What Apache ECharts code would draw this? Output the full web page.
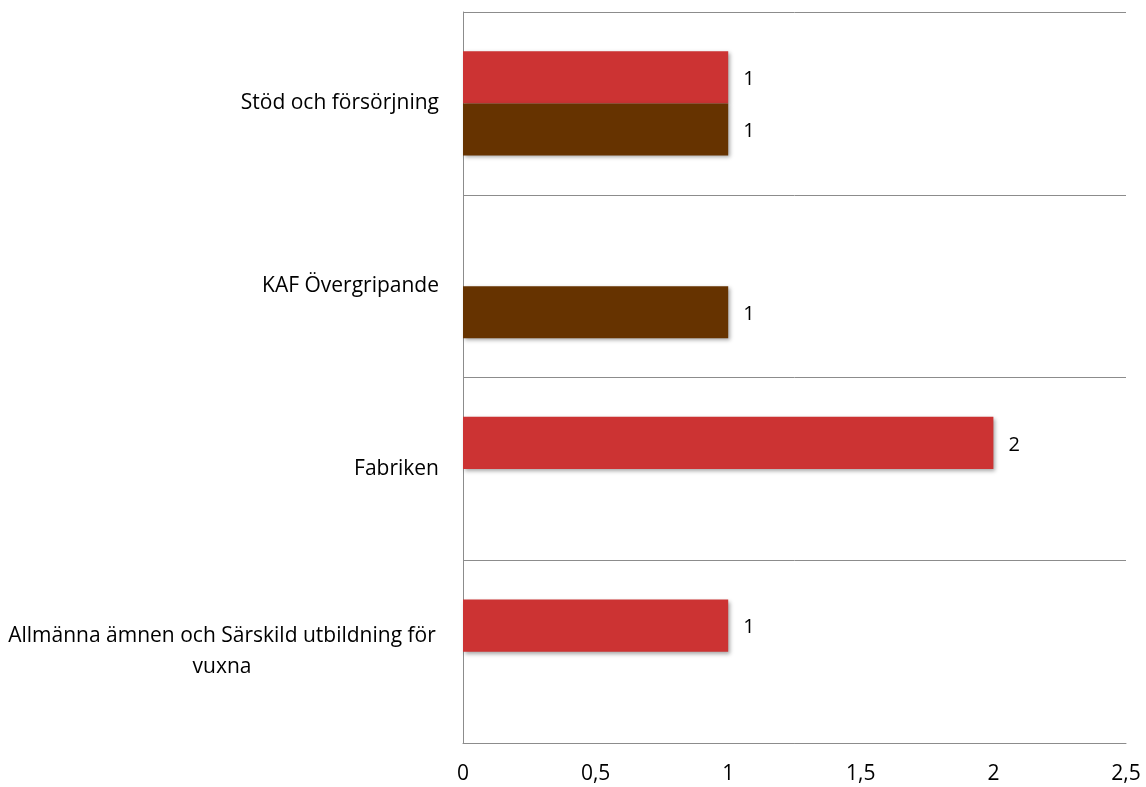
<!DOCTYPE html>
<html>
<head>
<meta charset="utf-8">
<script src="https://cdn.jsdelivr.net/npm/echarts@6/dist/echarts.min.js"></script>
<style>
  html, body { margin: 0; padding: 0; background: #fff; }
  #main { width: 1146px; height: 787px; }
</style>
</head>
<body>
<div id="main"></div>
<script>
// data, bottom category first
const categories = [
    'Allmänna ämnen och Särskild utbildning för vuxna',
    'Fabriken',
    'KAF Övergripande',
    'Stöd och försörjning'
];
const redValues = [1, 2, null, 1];
const brownValues = [null, null, 1, 1];
const xTicks = [0, 0.5, 1, 1.5, 2, 2.5];

const FONT = '"Open Sans"';
const SIZE = 21;
const TEXT = '#000';

function wrapLabel(name) {
    const words = name.split(' ');
    const lines = [];
    let cur = '';
    words.forEach(w => {
        const next = cur ? cur + ' ' + w : w;
        if (next.length > 42 && cur) {
            lines.push(cur);
            cur = w;
        } else {
            cur = next;
        }
    });
    lines.push(cur);
    if (lines.length === 1) return name;
    return lines.map(l => '{c|' + l + '}').join('\n');
}

const barShadow = {
    shadowColor: 'rgba(0,0,0,0.35)',
    shadowBlur: 4,
    shadowOffsetX: 2,
    shadowOffsetY: 2
};

const valueLabel = {
    show: true,
    position: 'right',
    distance: 15,
    offset: [0, 2],
    fontFamily: FONT,
    fontSize: SIZE - 1,
    color: TEXT
};

const myChart = echarts.init(document.getElementById('main'));
const option = {
    animation: false,
    backgroundColor: '#fff',
    grid: { left: 463, right: 20, top: 12, bottom: 44 },
    xAxis: {
        type: 'value',
        min: xTicks[0],
        max: xTicks[xTicks.length - 1],
        interval: 0.5,
        axisLine: { show: true, lineStyle: { color: '#8c8c8c', width: 1 } },
        axisTick: { show: false },
        splitLine: { show: false },
        axisLabel: {
            margin: 21,
            fontFamily: FONT,
            fontSize: SIZE,
            color: TEXT,
            formatter: v => String(v).replace('.', ',')
        }
    },
    yAxis: {
        type: 'category',
        data: categories,
        axisLine: { show: true, lineStyle: { color: '#8c8c8c', width: 1 } },
        axisTick: { show: false },
        splitLine: { show: true, lineStyle: { color: '#8c8c8c', width: 1 } },
        axisLabel: {
            margin: 24,
            fontFamily: FONT,
            fontSize: SIZE,
            color: TEXT,
            formatter: wrapLabel,
            rich: {
                c: {
                    width: 434,
                    align: 'center',
                    fontFamily: FONT,
                    fontSize: SIZE,
                    lineHeight: 31,
                    color: TEXT
                }
            }
        }
    },
    series: [
        {
            name: 'Serie 1',
            type: 'bar',
            data: redValues,
            barGap: '0%',
            barCategoryGap: '43%',
            itemStyle: Object.assign({ color: '#cc3333' }, barShadow),
            label: valueLabel
        },
        {
            name: 'Serie 2',
            type: 'bar',
            data: brownValues,
            itemStyle: Object.assign({ color: '#663300' }, barShadow),
            label: valueLabel
        }
    ]
};
myChart.setOption(option);
</script>
</body>
</html>
